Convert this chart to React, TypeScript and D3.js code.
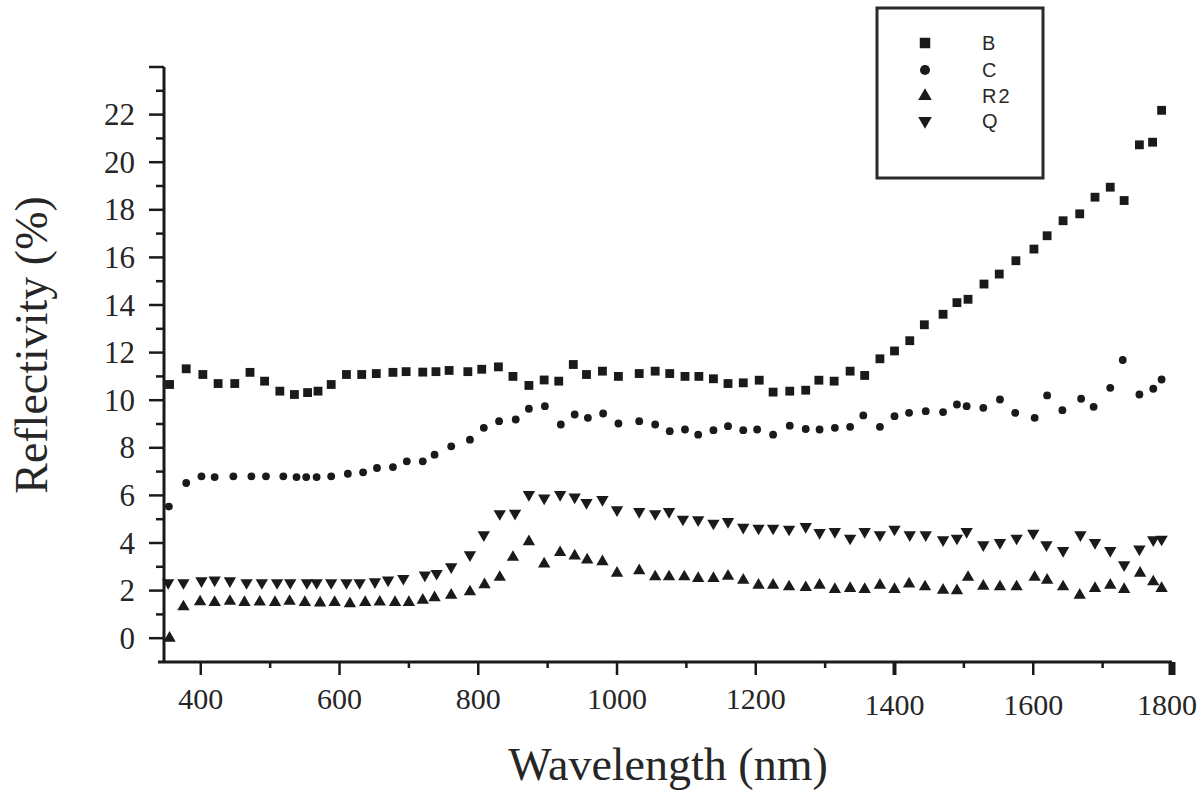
import React from "react";
import * as d3 from "d3";

// ---- data (wavelength in nm, reflectivity in %) ----
const bWavelength = [355,379,403,425,449,471,492,514,535,554,569,588,610,632,653,677,696,720,739,758,785,805,829,850,873,895,916,937,956,979,1002,1032,1055,1076,1098,1118,1139,1160,1182,1205,1225,1249,1272,1291,1313,1336,1357,1379,1400,1422,1443,1470,1490,1506,1529,1551,1575,1601,1620,1643,1667,1689,1711,1731,1753,1772,1785];
const bValues = [10.66,11.32,11.08,10.7,10.7,11.17,10.8,10.38,10.24,10.32,10.38,10.66,11.08,11.08,11.12,11.17,11.2,11.18,11.2,11.25,11.2,11.3,11.4,11.0,10.62,10.85,10.8,11.5,11.08,11.22,11.0,11.12,11.22,11.12,11.0,11.0,10.9,10.7,10.73,10.84,10.34,10.38,10.42,10.84,10.8,11.22,11.04,11.74,12.07,12.5,13.17,13.61,14.1,14.24,14.88,15.3,15.86,16.35,16.91,17.54,17.83,18.53,18.95,18.39,20.73,20.84,22.18];

const cWavelength = [354,379,401,420,447,473,494,519,538,552,567,588,612,634,654,677,697,720,737,761,788,808,830,854,873,896,919,939,958,980,1002,1032,1055,1076,1098,1117,1139,1160,1182,1202,1225,1249,1272,1292,1314,1336,1355,1379,1400,1421,1445,1470,1490,1504,1528,1552,1574,1602,1620,1642,1669,1687,1711,1729,1753,1773,1785];
const cValues = [5.53,6.52,6.8,6.77,6.8,6.8,6.8,6.8,6.77,6.77,6.77,6.8,6.91,6.97,7.15,7.19,7.43,7.43,7.71,8.06,8.34,8.84,9.12,9.19,9.64,9.75,8.98,9.4,9.26,9.44,9.02,9.12,8.98,8.7,8.77,8.55,8.74,8.91,8.74,8.77,8.55,8.93,8.79,8.77,8.84,8.88,9.36,8.88,9.33,9.47,9.54,9.5,9.82,9.75,9.68,10.03,9.47,9.26,10.2,9.58,10.06,9.72,10.52,11.69,10.24,10.48,10.87];

const r2Wavelength = [355,375,399,420,442,463,485,507,528,550,572,593,615,637,658,680,700,720,737,761,788,809,831,850,873,895,918,939,957,979,1000,1032,1055,1075,1097,1117,1139,1160,1182,1204,1225,1248,1272,1292,1314,1336,1357,1379,1400,1421,1444,1470,1490,1506,1528,1552,1576,1602,1620,1643,1667,1689,1711,1731,1754,1773,1785];
const r2Values = [0,1.32,1.53,1.5,1.55,1.5,1.52,1.5,1.55,1.5,1.48,1.5,1.45,1.5,1.52,1.5,1.5,1.6,1.7,1.81,1.95,2.25,2.56,3.4,4.06,3.12,3.6,3.46,3.29,3.22,2.73,2.84,2.58,2.58,2.58,2.51,2.51,2.61,2.44,2.23,2.23,2.16,2.13,2.23,2.05,2.09,2.05,2.23,2.05,2.28,2.16,2.02,2.0,2.56,2.19,2.16,2.16,2.56,2.44,2.16,1.81,2.09,2.23,2.05,2.73,2.37,2.09];

const qWavelength = [353,375,401,420,442,466,488,510,529,553,567,588,610,629,651,670,692,723,740,761,788,808,831,853,873,895,918,939,956,979,1000,1032,1055,1075,1095,1117,1139,1160,1182,1204,1225,1248,1272,1292,1314,1336,1357,1379,1400,1422,1445,1470,1490,1504,1528,1552,1576,1600,1619,1643,1668,1689,1711,1731,1753,1773,1785];
const qValues = [2.33,2.33,2.41,2.44,2.41,2.33,2.33,2.33,2.33,2.33,2.33,2.33,2.33,2.33,2.37,2.44,2.51,2.65,2.72,3.0,3.5,4.34,5.23,5.25,6.03,5.89,6.03,5.93,5.7,5.82,5.39,5.32,5.23,5.32,5.0,4.97,4.83,4.9,4.66,4.62,4.62,4.58,4.69,4.44,4.48,4.2,4.48,4.34,4.58,4.34,4.34,4.13,4.2,4.48,3.92,4.02,4.2,4.41,3.92,3.68,4.34,4.02,3.68,3.08,3.74,4.13,4.16];

const seriesNames = ["B", "C", "R2", "Q"];

const xMajorTicks = [400, 600, 800, 1000, 1200, 1400, 1600, 1800];
const xMinorTicks = [500, 700, 900, 1100, 1300, 1500, 1700];
const yMajorTicks = [0, 2, 4, 6, 8, 10, 12, 14, 16, 18, 20, 22, 24];
const yMinorTicks = [1, 3, 5, 7, 9, 11, 13, 15, 17, 19, 21, 23];
const yLabelTicks = [0, 2, 4, 6, 8, 10, 12, 14, 16, 18, 20, 22];

const xDomain = [347, 1800];
const yDomain = [-1, 24];

// ---- layout ----
const W = 1200, H = 794;
const left = 164, right = 1172, top = 67, bottom = 662;
const ink = "#1a1a1a";
const serif = "'Liberation Serif', 'Times New Roman', Times, serif";
const sans = "'Liberation Sans', Arial, sans-serif";

const symbolTypes = [d3.symbolSquare, d3.symbolCircle, d3.symbolTriangle, d3.symbolTriangle];
const symbolSizes = [78, 48, 66, 66];
const symbolRotate = [0, 0, 0, 180];
const legendSizes = [110, 80, 80, 80];

export default function App() {
  const x = d3.scaleLinear().domain(xDomain).range([left, right]);
  const y = d3.scaleLinear().domain(yDomain).range([bottom, top]);

  const series = [
    { xs: bWavelength, ys: bValues },
    { xs: cWavelength, ys: cValues },
    { xs: r2Wavelength, ys: r2Values },
    { xs: qWavelength, ys: qValues },
  ];

  const paths = symbolTypes.map((t, i) => d3.symbol().type(t).size(symbolSizes[i])() as string);
  const legendPaths = symbolTypes.map((t, i) => d3.symbol().type(t).size(legendSizes[i])() as string);

  const legendX = 925, legendLabelX = 982;
  const legendRows = [43, 70, 96, 121];

  return (
    <div style={{ position: "absolute", left: 0, top: 0 }}>
      <svg width={W} height={H} style={{ display: "block", background: "#fff" }}>
        {/* data markers */}
        {series.map((s, si) => (
          <g key={si}>
            {s.xs.map((wl, i) => (
              <path
                key={i}
                d={paths[si]}
                fill={ink}
                transform={`translate(${x(wl)},${y(s.ys[i])}) rotate(${symbolRotate[si]})`}
              />
            ))}
          </g>
        ))}

        {/* axes */}
        <line x1={left} x2={left} y1={top} y2={bottom} stroke={ink} strokeWidth={3} />
        <line x1={left - 6} x2={right} y1={bottom} y2={bottom} stroke={ink} strokeWidth={3} />

        {yMajorTicks.map((v) => (
          <line key={"ym" + v} x1={left - 15} x2={left} y1={y(v)} y2={y(v)} stroke={ink} strokeWidth={2.5} />
        ))}
        {yMinorTicks.map((v) => (
          <line key={"yn" + v} x1={left - 8} x2={left} y1={y(v)} y2={y(v)} stroke={ink} strokeWidth={2.5} />
        ))}
        {yLabelTicks.map((v) => (
          <text key={"yl" + v} x={135} y={y(v)} textAnchor="end" dominantBaseline="central"
            fontFamily={serif} fontSize={31} fill="#262626">{v}</text>
        ))}

        {xMajorTicks.map((v) => (
          <line key={"xm" + v} x1={x(v)} x2={x(v)} y1={bottom} y2={bottom + 13} stroke={ink}
            strokeWidth={v === 1800 ? 7 : v === 1400 ? 4 : 2.5} />
        ))}
        {xMinorTicks.map((v) => (
          <line key={"xn" + v} x1={x(v)} x2={x(v)} y1={bottom} y2={bottom + 6} stroke={ink} strokeWidth={2.5} />
        ))}
        {xMajorTicks.map((v) => (
          <text key={"xl" + v} x={x(v) - (v === 1800 ? 5 : 0)} y={v >= 1400 ? 715 : 709} textAnchor="middle"
            fontFamily={serif} fontSize={30} fill="#262626">{v}</text>
        ))}

        {/* axis titles */}
        <text x={(left + right) / 2} y={780} textAnchor="middle" fontFamily={serif} fontSize={46} fill="#262626">
          Wavelength (nm)
        </text>
        <text transform={`translate(47,345) rotate(-90)`} textAnchor="middle" fontFamily={serif} fontSize={46} fill="#262626">
          Reflectivity (%)
        </text>

        {/* legend */}
        <rect x={877} y={8} width={166} height={170} fill="#fff" stroke="#2a2a2a" strokeWidth={3} />
        {seriesNames.map((name, i) => (
          <g key={name}>
            <path d={legendPaths[i]} fill={ink}
              transform={`translate(${legendX},${legendRows[i]}) rotate(${symbolRotate[i]})`} />
            <text x={legendLabelX} y={legendRows[i]} dominantBaseline="central" fontFamily={sans}
              fontSize={20} fill="#2a2a2a" letterSpacing={name === "R2" ? 2 : 0}>{name}</text>
          </g>
        ))}
      </svg>
    </div>
  );
}
